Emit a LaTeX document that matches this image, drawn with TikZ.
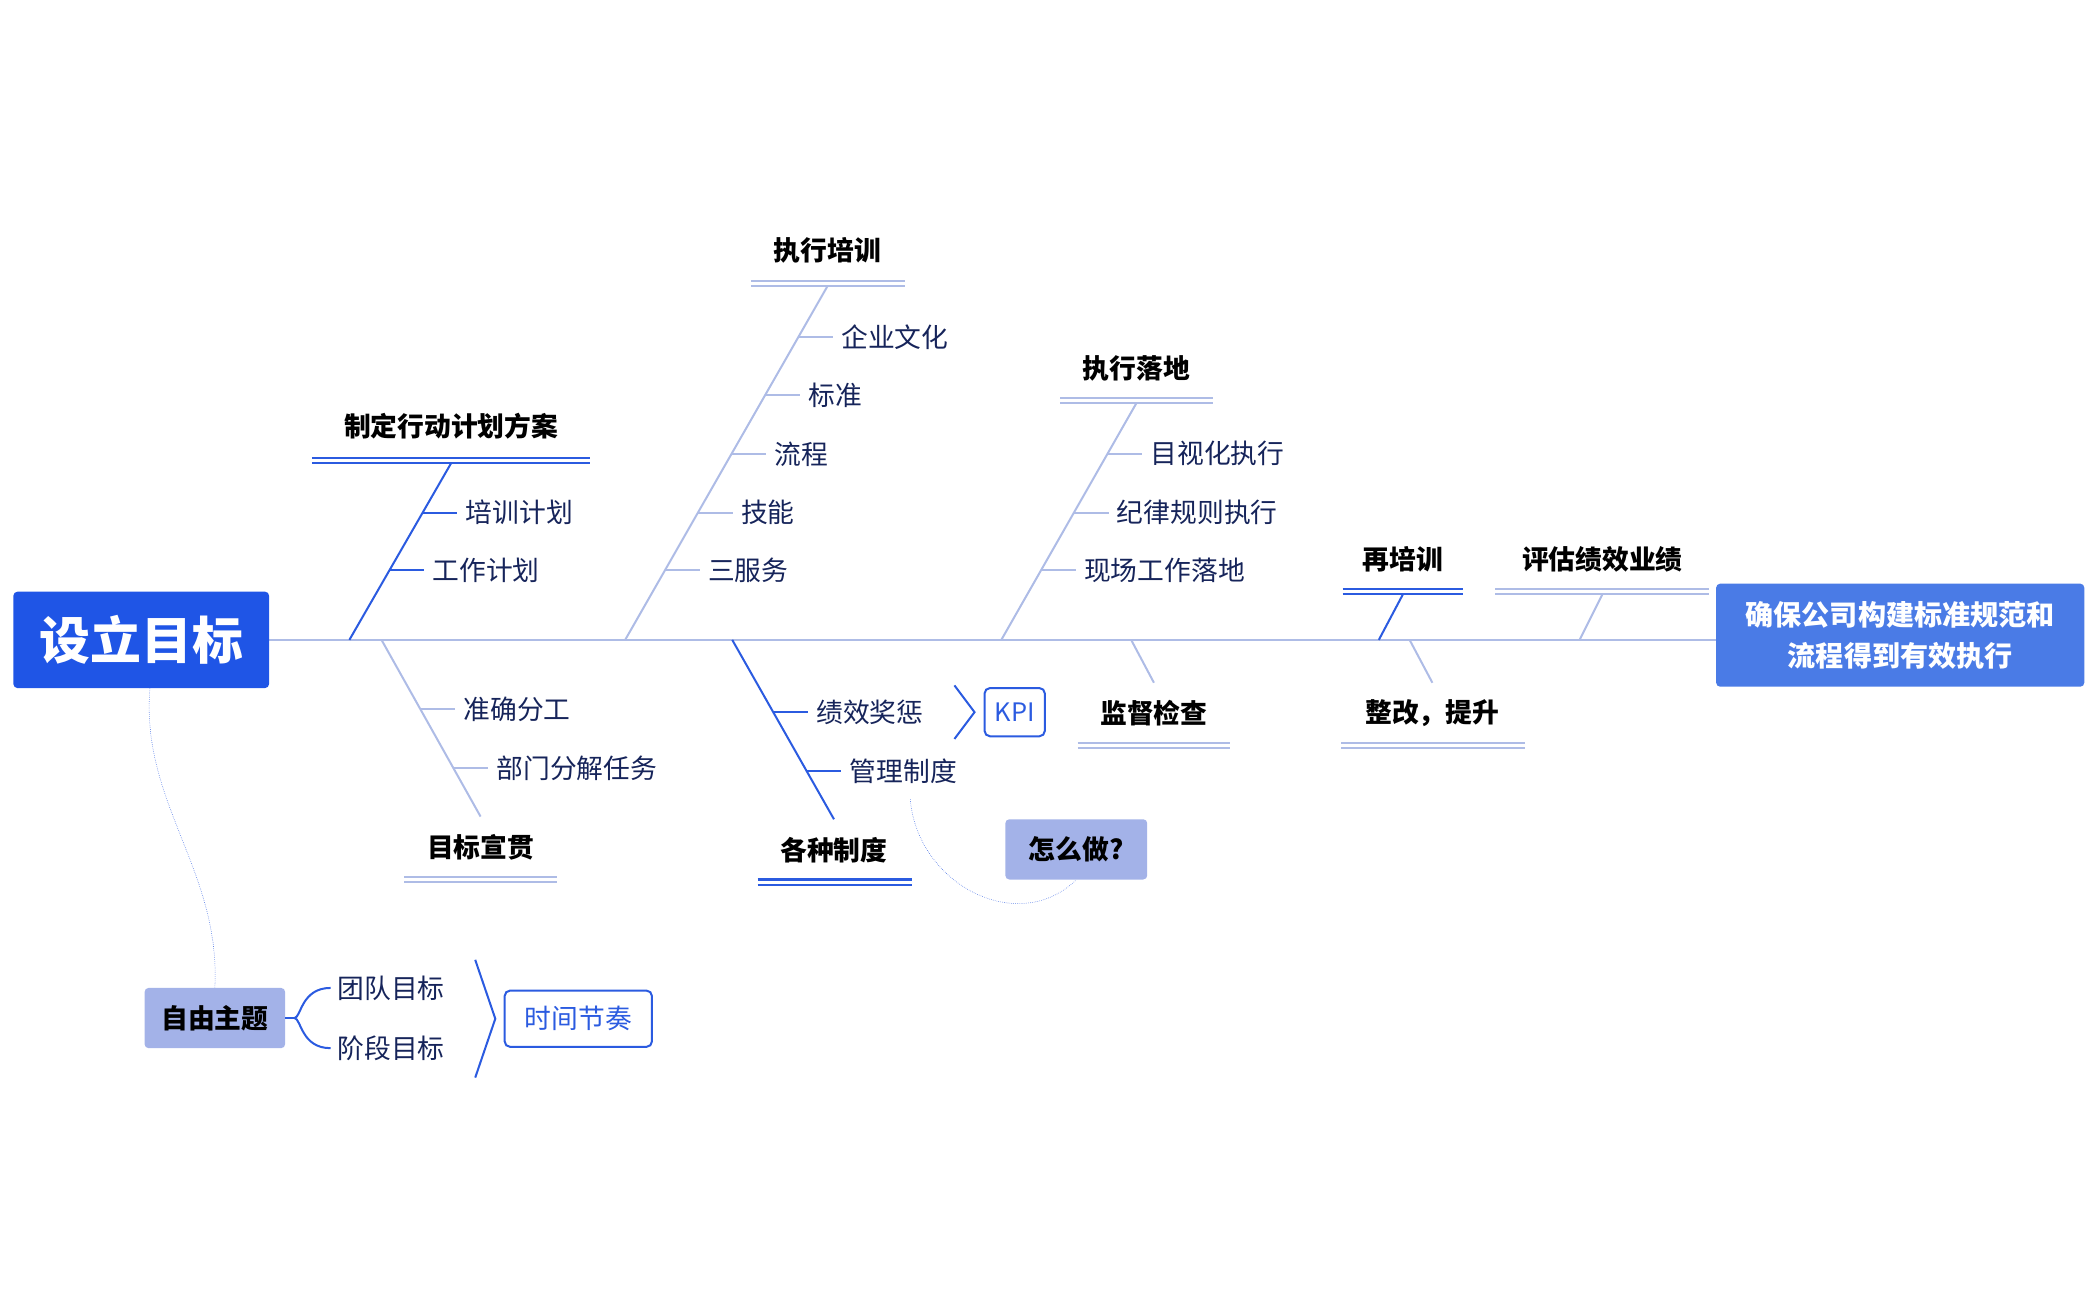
\documentclass[tikz,border=0pt]{standalone}
\usepackage{fontspec}
\setmainfont{Noto Sans CJK SC}
\usetikzlibrary{calc,decorations.pathreplacing}
\definecolor{dk}{HTML}{2B5BE0}
\definecolor{lt}{HTML}{AEBCE6}
\definecolor{tx}{HTML}{16245A}
\definecolor{rootc}{HTML}{1F55E6}
\definecolor{endc}{HTML}{4A7BE6}
\definecolor{soft}{HTML}{A3B2E8}
\tikzset{
 sub/.style={anchor=west,text=tx,font=\fontsize{20}{22}\selectfont,inner sep=0pt},
 lab/.style={text=black,font=\fontsize{20}{22}\selectfont\bfseries,inner sep=0pt},
 lw/.style={line width=1.5pt},
}
\newcommand\branch[6]{% tx ty bx by color list
 \draw[#5,lw] (#1,#2) -- (#3,#4);
 \foreach \yy/\txt in {#6}{
   \pgfmathsetmacro\xl{#3+(#1-#3)/(#4-#2)*(#4-\yy)}
   \draw[#5,lw] (\xl,\yy) -- (\xl+26,\yy);
   \node[sub] at (\xl+32,\yy) {\txt};
 }}
\newcommand\uline[4]{% x1 x2 y color
 \draw[#4,lw] (#1,#3) -- (#2,#3);
 \draw[#4,lw] (#1,#3+4) -- (#2,#3+4);}
\begin{document}
\begin{tikzpicture}[x=1pt,y=-1pt]
\useasboundingbox (0,0) rectangle (1568,971);
% spine
\draw[lt,lw] (201,478) -- (1282,478);
\node[fill=rootc,rounded corners=3pt,minimum width=191,minimum height=72,text=white,font=\fontsize{38}{40}\selectfont\bfseries] (root) at (105.5,478) {设立目标};
\node[fill=endc,rounded corners=3pt,minimum width=275,minimum height=77,text=white,font=\fontsize{21}{31}\selectfont\bfseries,align=center] (goal) at (1419.5,474.5) {确保公司构建标准规范和\\流程得到有效执行};
% branch 1
\node[lab] (b1) at (337,318) {制定行动计划方案};
\uline{233}{441}{342}{dk}
\branch{337}{346}{261}{478}{dk}{383/培训计划,426/工作计划}
% branch 2
\node[lab] (b2) at (618,187) {执行培训};
\uline{561}{676}{210}{lt}
\branch{618}{214}{467}{478}{lt}{252/企业文化,295/标准,339/流程,383/技能,426/三服务}
% branch 3
\node[lab] (b3) at (849,275) {执行落地};
\uline{792}{906}{297}{lt}
\branch{849}{301}{748}{478}{lt}{339/目视化执行,383/纪律规则执行,426/现场工作落地}
% 再培训
\node[lab] (b4) at (1048,418) {再培训};
\uline{1003}{1093}{440}{dk}
\draw[dk,lw] (1048,444) -- (1030,478);
\node[lab] (b5) at (1197,418) {评估绩效业绩};
\uline{1117}{1277}{440}{lt}
\draw[lt,lw] (1197,444) -- (1180,478);
% bottom
\node[lab] (b6) at (359,633) {目标宣贯};
\uline{302}{416}{655}{lt}
\branch{359}{610}{285}{478}{lt}{530/准确分工,574/部门分解任务}
\node[lab] (b7) at (623,635) {各种制度};
\uline{566}{681}{657}{dk}
\branch{623}{612}{547}{478}{dk}{532/绩效奖惩,576/管理制度}
\draw[dk,lw] (713,512) -- (728,532) -- (713,552);
\node[draw=dk,lw,rounded corners=4pt,minimum width=45,minimum height=36,text=dk,font=\fontsize{19}{20}\selectfont] (kpi) at (758,532) {KPI};
\node[lab] (b8) at (862,533) {监督检查};
\uline{805}{919}{555}{lt}
\draw[lt,lw] (845,478) -- (862,510);
\node[lab] (b9) at (1070,533) {整改，提升};
\uline{1002}{1139}{555}{lt}
\draw[lt,lw] (1053,478) -- (1070,510);
\node[fill=soft,rounded corners=3pt,minimum width=106,minimum height=45,font=\fontsize{20}{22}\selectfont\bfseries] (how) at (804,634.5) {怎么做?};
\draw[dk,densely dotted] (680,597) .. controls (685,660) and (760,700) .. (how.south);
% free topic
\node[fill=soft,rounded corners=3pt,minimum width=105,minimum height=45,font=\fontsize{20}{22}\selectfont\bfseries] (free) at (160.5,760.5) {自由主题};
\draw[dk,densely dotted] (112,514) .. controls (105,600) and (165,650) .. (free.north);
\node[sub] (t1) at (252,738) {团队目标};
\node[sub] (t2) at (252,783) {阶段目标};
\draw[dk,lw] (free.east) -- (220,760.5);
\draw[dk,lw] (247,738) .. controls (225,738) and (225,760) .. (220,760.5) .. controls (225,761) and (225,783) .. (247,783);
\draw[dk,lw] (355,717) -- (370,761) -- (355,805);
\node[draw=dk,lw,rounded corners=4pt,minimum width=110,minimum height=42,text=dk,font=\fontsize{20}{22}\selectfont] (time) at (432,761) {时间节奏};
\end{tikzpicture}
\end{document}
